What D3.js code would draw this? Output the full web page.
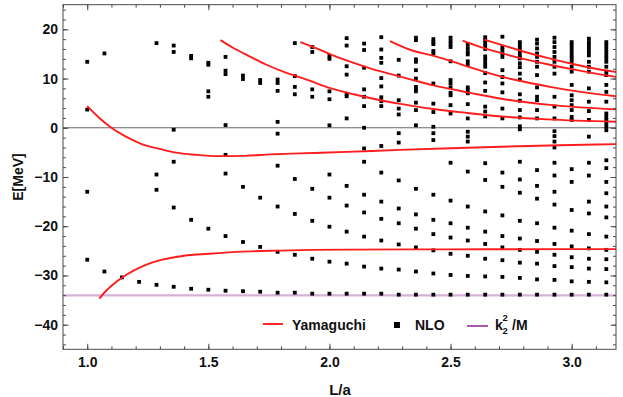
<!DOCTYPE html>
<html>
<head>
<meta charset="utf-8">
<script src="https://cdn.jsdelivr.net/npm/d3@7"></script>
<style>
  body { margin: 0; background: #fff; }
  svg text { font-family: "Liberation Sans", Arial, sans-serif; font-weight: bold; fill: #111; }
</style>
</head>
<body>
<div class="chart"></div>
<script>
// L/a positions of the finite-volume levels
const lValues = [1.000, 1.071, 1.143, 1.214, 1.286, 1.357, 1.429, 1.500, 1.571, 1.643,
  1.714, 1.786, 1.857, 1.929, 2.000, 2.071, 2.143, 2.214, 2.286, 2.357,
  2.429, 2.500, 2.571, 2.643, 2.714, 2.786, 2.857, 2.929, 3.000, 3.071, 3.143];

// NLO energies (MeV), one list per L/a column
const nloLevels = [
  [13.4, 3.7, -13.0, -26.8],
  [15.1, -29.2],
  [-30.4],
  [-31.3],
  [17.2, -9.5, -12.6, -31.9],
  [16.7, 15.4, -0.4, -6.9, -16.2, -32.3],
  [14.6, 14.1, -18.7, -32.7],
  [13.2, 12.8, 7.4, 6.3, -20.5, -32.9],
  [14.4, 11.6, 10.9, 0.55, -5.5, -9.3, -22.0, -33.1],
  [10.6, 9.9, -12.0, -23.2, -33.2],
  [9.7, 9.1, -14.2, -24.2, -33.3],
  [9.8, 9.1, 7.5, 1.2, -1.2, -7.7, -16.0, -25.2, -33.5],
  [17.2, 10.5, 8.3, 6.8, -10.4, -17.5, -25.8, -33.5],
  [16.4, 15.4, 7.8, 6.3, -12.4, -18.9, -26.6, -33.7],
  [14.6, 14.0, 7.4, 5.8, 0.5, -9.5, -14.2, -20.1, -27.2, -33.7],
  [18.2, 16.7, 12.5, 10.8, 6.9, 6.4, 1.9, -11.8, -15.8, -21.1, -27.6, -33.7],
  [17.1, 15.8, 12.2, 7.8, 6.3, 4.4, 0.0, -4.2, -6.9, -13.6, -17.2, -22.1, -28.2, -33.7],
  [18.4, 15.9, 14.2, 13.2, 10.1, 8.4, 6.2, 5.4, 4.4, -3.7, -9.1, -15.0, -18.5, -22.9, -28.6, -33.7],
  [13.8, 10.6, 5.6, 3.9, 2.7, -1.1, -3.0, -10.7, -16.4, -19.4, -23.7, -28.8, -33.9],
  [18.3, 17.8, 13.9, 13.4, 11.7, 10.0, 8.3, 7.8, 7.4, 5.1, 3.6, 0.5, -12.4, -17.6, -20.5, -24.3, -29.2, -33.9],
  [18.0, 17.4, 17.0, 15.6, 15.1, 9.0, 4.9, 3.2, 0.2, -1.1, -2.5, -13.6, -18.7, -21.6, -24.9, -29.6, -33.9],
  [18.3, 17.6, 17.0, 16.4, 13.5, 9.7, 9.0, 8.2, 7.1, 6.6, 4.6, 2.9, -7.1, -14.8, -19.4, -22.3, -25.6, -29.9, -33.9],
  [17.0, 16.2, 15.4, 14.9, 13.5, 12.8, 8.2, 7.6, 7.0, 4.8, 1.9, -0.8, -1.8, -2.8, -8.9, -16.0, -20.3, -22.9, -26.0, -30.1, -33.9],
  [18.4, 17.8, 17.2, 16.6, 16.0, 14.5, 13.8, 13.1, 12.4, 11.1, 9.2, 7.5, 4.3, 3.3, 2.3, -7.2, -10.6, -17.0, -21.1, -23.6, -26.6, -30.2, -33.9],
  [18.5, 16.4, 15.8, 15.1, 14.4, 11.7, 10.3, 9.0, 7.2, 3.9, 1.9, -9.1, -12.0, -17.8, -22.0, -24.3, -26.9, -30.3, -33.9],
  [17.4, 16.8, 16.1, 15.4, 14.7, 14.1, 13.1, 12.3, 11.0, 9.8, 6.8, 5.5, 3.6, 2.1, 0.3, -0.3, -6.9, -10.5, -13.2, -18.9, -22.5, -24.8, -27.4, -30.5, -33.9],
  [17.9, 17.1, 16.1, 15.1, 14.4, 13.4, 12.4, 10.7, 8.2, 6.3, 5.6, 3.6, 1.9, -8.6, -11.8, -14.4, -19.4, -23.0, -25.2, -27.6, -30.8, -33.9],
  [18.3, 17.4, 16.4, 15.4, 14.4, 13.4, 12.4, 11.0, 6.3, 4.3, 1.9, -0.7, -1.7, -2.8, -4.0, -7.1, -9.7, -13.0, -15.6, -20.3, -23.6, -25.8, -28.1, -30.9, -33.9],
  [17.4, 16.8, 16.1, 15.4, 14.7, 14.1, 13.4, 12.4, 11.4, 8.7, 6.6, 5.6, 4.6, 3.6, 2.2, 1.6, -8.4, -11.0, -16.7, -20.9, -24.1, -26.3, -28.3, -31.2, -33.9],
  [18.1, 17.4, 16.8, 16.1, 15.4, 14.7, 13.4, 12.4, 11.4, 8.0, 5.3, 3.4, 1.6, -1.8, -7.1, -9.7, -15.0, -17.4, -21.6, -24.5, -26.6, -28.6, -31.3, -33.9],
  [17.4, 16.8, 16.1, 15.4, 14.7, 14.1, 13.4, 12.4, 11.4, 10.7, 8.7, 7.3, 5.3, 2.9, 2.2, 1.6, 0.9, 0.2, -0.5, -6.6, -8.2, -11.0, -13.3, -16.0, -18.2, -22.1, -24.8, -26.7, -28.7, -31.4, -33.9]
];

// Yamaguchi curves, [L/a, E] samples
const yamaBound = [[1.05,-34.7],[1.08,-33.0],[1.12,-31.3],[1.16,-29.9],[1.23,-28.1],[1.31,-26.8],[1.40,-26.0],
  [1.50,-25.6],[1.62,-25.2],[1.79,-24.95],[2.07,-24.75],[2.5,-24.7],[3.0,-24.65],[3.2,-24.65]];
const yamaLow = [[1.0,4.4],[1.05,2.0],[1.1,0.0],[1.16,-1.8],[1.22,-3.2],[1.29,-4.2],[1.36,-5.0],[1.45,-5.5],
  [1.55,-5.75],[1.65,-5.7],[1.76,-5.4],[1.88,-5.2],[2.07,-4.9],[2.29,-4.5],[2.5,-4.15],[2.71,-3.85],[2.95,-3.55],[3.2,-3.3]];
const yama3 = [[1.55,17.8],[1.6,16.3],[1.67,14.5],[1.74,12.8],[1.82,11.2],[1.9,9.9],[2.0,8.1],[2.1,6.8],[2.2,5.7],
  [2.3,4.8],[2.43,3.8],[2.57,3.0],[2.71,2.3],[2.9,1.7],[3.2,1.2]];
const yama4 = [[1.88,17.4],[1.95,16.1],[2.02,14.6],[2.1,13.2],[2.2,11.6],[2.3,10.3],[2.43,8.6],[2.58,7.1],[2.71,5.9],[2.9,4.7],[3.2,3.7]];
const yama5 = [[2.25,17.6],[2.33,15.9],[2.43,14.6],[2.5,13.6],[2.58,12.3],[2.71,10.4],[2.8,9.4],[2.91,8.3],[3.05,7.2],[3.2,6.3]];
const yama6 = [[2.55,17.7],[2.6,16.8],[2.7,15.3],[2.8,14.0],[2.9,12.9],[3.0,11.9],[3.1,11.0],[3.2,10.2]];
const yama7 = [[2.64,17.9],[2.7,17.0],[2.8,15.5],[2.9,14.2],[3.0,13.0],[3.1,12.0],[3.2,11.2]];
const yamaguchiCurves = [yamaBound, yamaLow, yama3, yama4, yama5, yama6, yama7];

const thresholdE = -34.05; // k2^2/M

const xMajorTicks = [1.0, 1.5, 2.0, 2.5, 3.0];
const xMinorTicks = [0.9, 1.0, 1.1, 1.2, 1.3, 1.4, 1.5, 1.6, 1.7, 1.8, 1.9, 2.0, 2.1, 2.2, 2.3, 2.4, 2.5, 2.6, 2.7, 2.8, 2.9, 3.0, 3.1];
const yMajorTicks = [20, 10, 0, -10, -20, -30, -40];
const yMinorTicks = [24, 22, 20, 18, 16, 14, 12, 10, 8, 6, 4, 2, 0, -2, -4, -6, -8, -10, -12, -14, -16, -18, -20,
  -22, -24, -26, -28, -30, -32, -34, -36, -38, -40, -42, -44];

const width = 623, height = 397;
const pLeft = 63, pRight = 616, pTop = 4.7, pBottom = 349.3;

const svg = d3.select(".chart").append("svg")
  .attr("width", width)
  .attr("height", height);

const x = d3.scaleLinear().domain([0.9, 3.183]).range([pLeft, pRight]);
const y = d3.scaleLinear().domain([-45, 25]).range([pBottom, pTop]);

svg.append("clipPath").attr("id", "plotclip")
  .append("rect").attr("x", pLeft).attr("y", pTop).attr("width", pRight - pLeft).attr("height", pBottom - pTop);

const g = svg.append("g").attr("clip-path", "url(#plotclip)");

// zero line and threshold
g.append("line")
  .attr("x1", pLeft).attr("x2", pRight)
  .attr("y1", y(0)).attr("y2", y(0))
  .attr("stroke", "#6a6a6a").attr("stroke-width", 1.2);

g.append("line")
  .attr("x1", pLeft).attr("x2", pRight)
  .attr("y1", y(thresholdE)).attr("y2", y(thresholdE))
  .attr("stroke", "#d7b0d9").attr("stroke-width", 2.4);

// NLO squares
const nloPoints = lValues.flatMap((L, i) => nloLevels[i].map(E => ({ L: L, E: E })));
const sq = 3.8;
g.selectAll("rect.nlo")
  .data(nloPoints)
  .enter().append("rect")
  .attr("class", "nlo")
  .attr("x", d => x(d.L) - sq / 2)
  .attr("y", d => y(d.E) - sq / 2)
  .attr("width", sq).attr("height", sq)
  .attr("fill", "#000");

// Yamaguchi curves
const line = d3.line()
  .x(d => x(d[0]))
  .y(d => y(d[1]))
  .curve(d3.curveMonotoneX);

g.selectAll("path.yama")
  .data(yamaguchiCurves)
  .enter().append("path")
  .attr("class", "yama")
  .attr("d", line)
  .attr("fill", "none")
  .attr("stroke", "#ff1c1c")
  .attr("stroke-width", 1.9);

// frame
svg.append("rect")
  .attr("x", pLeft).attr("y", pTop)
  .attr("width", pRight - pLeft).attr("height", pBottom - pTop)
  .attr("fill", "none").attr("stroke", "#4a4a4a").attr("stroke-width", 1);

function styleAxis(sel) {
  sel.select(".domain").remove();
  sel.selectAll(".tick line").attr("stroke", "#4a4a4a");
  sel.selectAll("text").attr("font-size", 14).attr("fill", "#111");
}

// bottom
svg.append("g").attr("transform", `translate(0,${pBottom})`)
  .call(d3.axisBottom(x).tickValues(xMinorTicks).tickSize(-3).tickFormat(""))
  .call(styleAxis);
svg.append("g").attr("transform", `translate(0,${pBottom})`)
  .call(d3.axisBottom(x).tickValues(xMajorTicks).tickSize(-5.5).tickPadding(8).tickFormat(d3.format(".1f")))
  .call(styleAxis);
// top
svg.append("g").attr("transform", `translate(0,${pTop})`)
  .call(d3.axisTop(x).tickValues(xMinorTicks).tickSize(-3).tickFormat(""))
  .call(styleAxis);
svg.append("g").attr("transform", `translate(0,${pTop})`)
  .call(d3.axisTop(x).tickValues(xMajorTicks).tickSize(-5.5).tickFormat(""))
  .call(styleAxis);
// left
svg.append("g").attr("transform", `translate(${pLeft},0)`)
  .call(d3.axisLeft(y).tickValues(yMinorTicks).tickSize(-3).tickFormat(""))
  .call(styleAxis);
svg.append("g").attr("transform", `translate(${pLeft},0)`)
  .call(d3.axisLeft(y).tickValues(yMajorTicks).tickSize(-5.5).tickPadding(5))
  .call(styleAxis);
// right
svg.append("g").attr("transform", `translate(${pRight},0)`)
  .call(d3.axisRight(y).tickValues(yMinorTicks).tickSize(-3).tickFormat(""))
  .call(styleAxis);
svg.append("g").attr("transform", `translate(${pRight},0)`)
  .call(d3.axisRight(y).tickValues(yMajorTicks).tickSize(-5.5).tickFormat(""))
  .call(styleAxis);

// axis labels
svg.append("text")
  .attr("x", 340).attr("y", 395)
  .attr("text-anchor", "middle")
  .attr("font-size", 15)
  .text("L/a");

svg.append("text")
  .attr("transform", "translate(23,177) rotate(-90)")
  .attr("text-anchor", "middle")
  .attr("font-size", 14)
  .text("E[MeV]");

// legend
const leg = svg.append("g");
leg.append("line").attr("x1", 263).attr("x2", 283).attr("y1", 324).attr("y2", 324)
  .attr("stroke", "#ff1c1c").attr("stroke-width", 1.9);
leg.append("text").attr("x", 292).attr("y", 330).attr("font-size", 14).text("Yamaguchi");
leg.append("rect").attr("x", 394).attr("y", 322).attr("width", 6).attr("height", 6).attr("fill", "#000");
leg.append("text").attr("x", 415).attr("y", 330).attr("font-size", 14).text("NLO");
leg.append("line").attr("x1", 467).attr("x2", 488).attr("y1", 326).attr("y2", 326)
  .attr("stroke", "#9b2a9b").attr("stroke-width", 1.6);
leg.append("text").attr("x", 495).attr("y", 330).attr("font-size", 14).text("k");
leg.append("text").attr("x", 502.5).attr("y", 321).attr("font-size", 9.5).text("2");
leg.append("text").attr("x", 502.5).attr("y", 334).attr("font-size", 9.5).text("2");
leg.append("text").attr("x", 512).attr("y", 330).attr("font-size", 14).text("/M");
</script>
</body>
</html>
